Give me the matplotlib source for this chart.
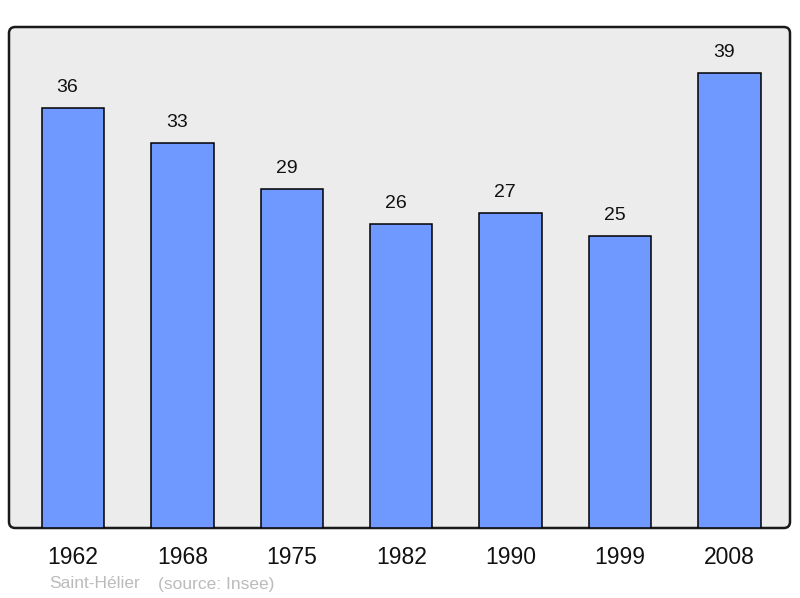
import matplotlib.pyplot as plt
from matplotlib.patches import FancyBboxPatch

# Population data
years = ['1962', '1968', '1975', '1982', '1990', '1999', '2008']
population = [36, 33, 29, 26, 27, 25, 39]
commune = 'Saint-Hélier'
source = '(source: Insee)'

plt.rcParams['font.family'] = ['Liberation Sans', 'DejaVu Sans']

fig = plt.figure(figsize=(8, 5.98), dpi=100)
ax = fig.add_axes([9 / 800, 70 / 598, 781 / 800, 501 / 598])
ax.patch.set_visible(False)
for s in ax.spines.values():
    s.set_visible(False)

# rounded frame behind the bars
frame = FancyBboxPatch((0, 0), 1, 1, boxstyle='round,pad=0,rounding_size=0.008',
                       mutation_aspect=781 / 501, transform=ax.transAxes,
                       facecolor='#ececec', edgecolor='#1a1a1a', linewidth=1.8,
                       clip_on=False, zorder=0)
ax.add_patch(frame)

x = range(len(years))
ax.bar(x, population, width=0.57, color='#7099ff', edgecolor='black',
       linewidth=1.1, zorder=2)

# value labels sit a little left of the bar centre in the original
for i, v in enumerate(population):
    ax.text(i - 0.05, v + 1.75, str(v), ha='center', va='center', fontsize=14, color='#111111')

ax.set_xlim(-0.585, 6.553)
ax.set_ylim(0, 42.9)
ax.set_yticks([])
ax.set_xticks(list(x))
ax.set_xticklabels(years, fontsize=16.5, color='#111111')
ax.tick_params(axis='x', length=0, pad=13)

fig.text(49 / 800, 1 - 584 / 598, commune, fontsize=12.5, color='#bbbbbb', va='center')
fig.text(158 / 800, 1 - 584 / 598, source, fontsize=12.5, color='#bbbbbb', va='center')

plt.savefig('out.png', dpi=100)
